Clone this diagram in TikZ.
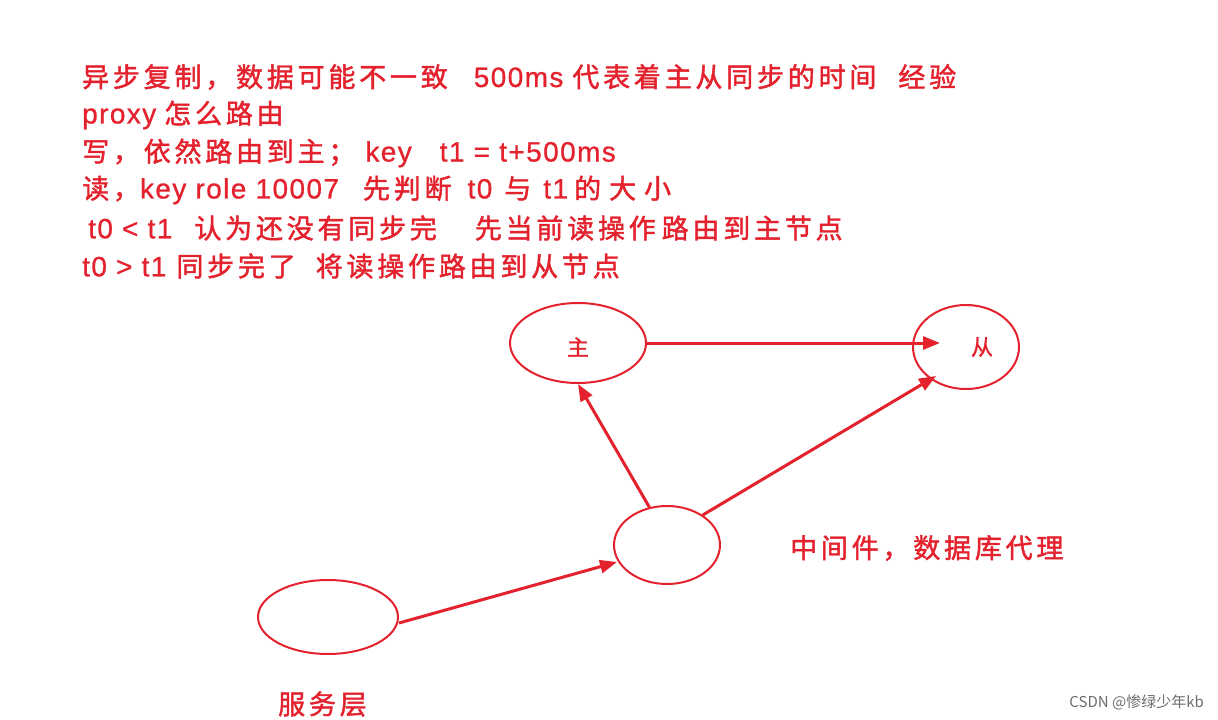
\documentclass[tikz,border=0pt]{standalone}
\usepackage{fontspec}
\setmainfont{Noto Sans CJK SC}
\newfontfamily\cjk[LetterSpace=14,FakeBold=1.6]{Noto Sans CJK SC}
\newfontfamily\lbl[FakeBold=1.2]{Noto Sans CJK SC}
\newfontfamily\latf[LetterSpace=5,FakeBold=0.8]{Liberation Sans}
\newcommand{\lt}[1]{{\latf\fontsize{28}{28}\selectfont #1}}
\usetikzlibrary{arrows.meta,shapes.geometric}
\definecolor{myred}{RGB}{228,34,46}
\definecolor{wm}{RGB}{110,110,110}
\tikzset{
  ell/.style={draw=myred, line width=2pt, ellipse, inner sep=0pt},
  conn/.style={draw=myred, line width=3pt, -{Triangle[length=17pt,width=13pt]}},
  txt/.style={text=myred, anchor=west, inner sep=0pt, font=\cjk\fontsize{27}{27}\selectfont},
  lab/.style={text=myred, font=\lbl\fontsize{22}{22}\selectfont},
}
\begin{document}
\begin{tikzpicture}[x=1pt,y=-1pt]
\useasboundingbox (0,0) rectangle (1218,720);
\fill[white] (0,0) rectangle (1218,720);
\node[txt] (l1) at (82,77) {异步复制，数据可能不一致\hspace{26pt}\lt{500ms}\hspace{9pt}代表着主从同步的时间\hspace{22pt}经验};
\node[txt] (l2) at (82,115) {\lt{proxy}\hspace{8pt}怎么路由};
\node[txt] (l3) at (82,153) {写，依然路由到主；\hspace{10pt}\lt{key\hspace{28pt}t1 = t+500ms}};
\node[txt] (l4) at (82,190) {读，\lt{key role 10007}\hspace{24pt}先判断\hspace{16pt}\lt{t0}\hspace{12pt}与\hspace{12pt}\lt{t1}\hspace{6pt}的\hspace{8pt}大\hspace{8pt}小};
\node[txt] (l5) at (88,228) {\lt{t0 < t1}\hspace{22pt}认为还没有同步完\hspace{38pt}先当前读操作\hspace{6pt}路由到主节点};
\node[txt] (l6) at (82,266) {\lt{t0 > t1}\hspace{10pt}同步完了\hspace{20pt}将读操作路由到从节点};

\node[ell, minimum width=136pt, minimum height=80pt] (zhu) at (578,343) {};
\node[lab] (zhut) at (578,347) {主};
\node[ell, minimum width=106pt, minimum height=84pt] (cong) at (966,347) {};
\node[lab] (congt) at (982,347) {从};
\node[ell, minimum width=106pt, minimum height=78pt] (mid) at (667,545) {};
\node[ell, minimum width=140pt, minimum height=74pt] (svc) at (328,617) {};

\node[txt] (midl) at (790,548) {中间件，数据库代理};
\node[txt] (svcl) at (278,704) {服务层};
\node[text=wm, anchor=east, inner sep=0pt, font=\fontsize{15}{15}\selectfont] (wmk) at (1204,702) {CSDN @惨绿少年kb};

\draw[conn] (zhu.east) -- ([xshift=28pt,yshift=4pt]cong.west);
\draw[conn] (mid.115) -- (zhu.south);
\draw[conn] (mid.40) -- ([shift={(-30pt,14pt)}]cong.south);
\draw[conn] ([yshift=-6pt]svc.east) -- ([shift={(4pt,-17pt)}]mid.west);
\end{tikzpicture}
\end{document}
